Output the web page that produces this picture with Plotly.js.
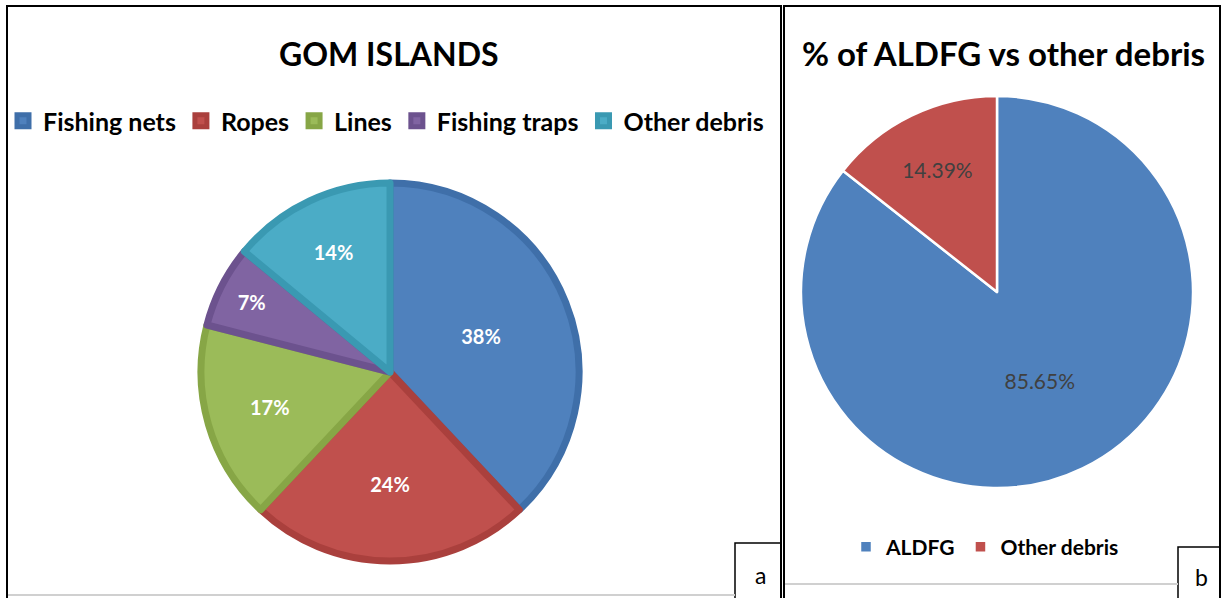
<!DOCTYPE html>
<html><head><meta charset="utf-8">
<script src="https://cdn.plot.ly/plotly-3.0.1.min.js"></script>
<style>html,body{margin:0;padding:0;background:#fff}#chart{width:1222px;height:598px}</style>
</head><body><div id="chart"></div>
<script>
// Panel a: GOM Islands composition
const gomCategories = ["Fishing nets", "Ropes", "Lines", "Fishing traps", "Other debris"];
const gomValues = [38, 24, 17, 7, 14];
const gomColors = ["#4F81BD", "#C0504D", "#9BBB59", "#8064A2", "#4BACC6"];
const gomLineColors = ["#3F6FA9", "#AA403D", "#87A646", "#6C528E", "#3A99B2"];

// Panel b: ALDFG vs other debris
const aldfgCategories = ["ALDFG", "Other debris"];
const aldfgValues = [85.65, 14.39];
const aldfgColors = ["#4F81BD", "#C0504D"];

const W = 1222, H = 598;
const px = x => x / W;
const py = y => 1 - y / H;

const FONT = "Lato, 'Open Sans', 'DejaVu Sans', sans-serif";

const traces = [
  {
    type: "pie",
    labels: gomCategories,
    values: gomValues,
    sort: false,
    direction: "clockwise",
    rotation: 0,
    marker: {colors: gomColors, line: {color: gomLineColors, width: 7}},
    texttemplate: "%{value}%",
    textposition: "inside",
    insidetextorientation: "horizontal",
    textfont: {family: FONT, size: 20, color: "#ffffff", weight: "bold"},
    hoverinfo: "label+percent",
    domain: {x: [px(390 - 189), px(390 + 189)], y: [py(372 + 189), py(372 - 189)]},
    legend: "legend",
    legendgroup: "a"
  },
  {
    type: "pie",
    labels: aldfgCategories,
    values: aldfgValues,
    sort: false,
    direction: "clockwise",
    rotation: 0,
    marker: {colors: aldfgColors, line: {color: "#ffffff", width: 2.5}},
    texttemplate: "%{value:.2f}%",
    textposition: "inside",
    insidetextorientation: "horizontal",
    textfont: {family: FONT, size: 21, color: "#404040"},
    hoverinfo: "label+percent",
    domain: {x: [px(997 - 196), px(997 + 196)], y: [py(292 + 196), py(292 - 196)]},
    legend: "legend2",
    legendgroup: "b"
  }
];

const layout = {
  width: W, height: H,
  margin: {l: 0, r: 0, t: 0, b: 0},
  paper_bgcolor: "#ffffff",
  showlegend: true,
  legend: {
    orientation: "h", x: px(3), y: py(121), xanchor: "left", yanchor: "middle",
    font: {family: FONT, size: 25, color: "#000000", weight: "bold"},
    itemwidth: 30, bgcolor: "rgba(0,0,0,0)", traceorder: "normal"
  },
  legend2: {
    orientation: "h", x: px(846), y: py(547), xanchor: "left", yanchor: "middle",
    font: {family: FONT, size: 21, color: "#000000", weight: "bold"},
    itemwidth: 30, bgcolor: "rgba(0,0,0,0)", traceorder: "normal"
  },
  annotations: [
    {text: "<b>GOM ISLANDS</b>", x: px(389), y: py(53), xref: "paper", yref: "paper",
     showarrow: false, xanchor: "center", yanchor: "middle",
     font: {family: FONT, size: 32, color: "#000000"}},
    {text: "<b>% of ALDFG vs other debris</b>", x: px(1003), y: py(53), xref: "paper", yref: "paper",
     showarrow: false, xanchor: "center", yanchor: "middle",
     font: {family: FONT, size: 33, color: "#000000"}},
    {text: "a", x: px(760), y: py(575), xref: "paper", yref: "paper",
     showarrow: false, xanchor: "center", yanchor: "middle",
     font: {family: FONT, size: 23, color: "#000000"}},
    {text: "b", x: px(1201), y: py(577), xref: "paper", yref: "paper",
     showarrow: false, xanchor: "center", yanchor: "middle",
     font: {family: FONT, size: 23, color: "#000000"}}
  ],
  shapes: [
    // gray baselines
    {type: "line", xref: "paper", yref: "paper", x0: px(8), x1: px(735), y0: py(595), y1: py(595), line: {color: "#d0d0d0", width: 2}},
    {type: "line", xref: "paper", yref: "paper", x0: px(785), x1: px(1178), y0: py(584), y1: py(584), line: {color: "#d0d0d0", width: 2}},
    // panel borders
    {type: "rect", xref: "paper", yref: "paper", x0: px(7), x1: px(781), y0: py(602), y1: py(6), line: {color: "#000000", width: 2}},
    {type: "rect", xref: "paper", yref: "paper", x0: px(784), x1: px(1220), y0: py(602), y1: py(6), line: {color: "#000000", width: 2}},
    // label boxes
    {type: "rect", xref: "paper", yref: "paper", x0: px(735), x1: px(781), y0: py(602), y1: py(543), line: {color: "#000000", width: 1.5}, fillcolor: "#ffffff", layer: "below"},
    {type: "rect", xref: "paper", yref: "paper", x0: px(1178), x1: px(1220), y0: py(602), y1: py(547), line: {color: "#000000", width: 1.5}, fillcolor: "#ffffff", layer: "below"}
  ]
};

Plotly.newPlot("chart", traces, layout, {displayModeBar: false, staticPlot: true});
</script></body></html>
